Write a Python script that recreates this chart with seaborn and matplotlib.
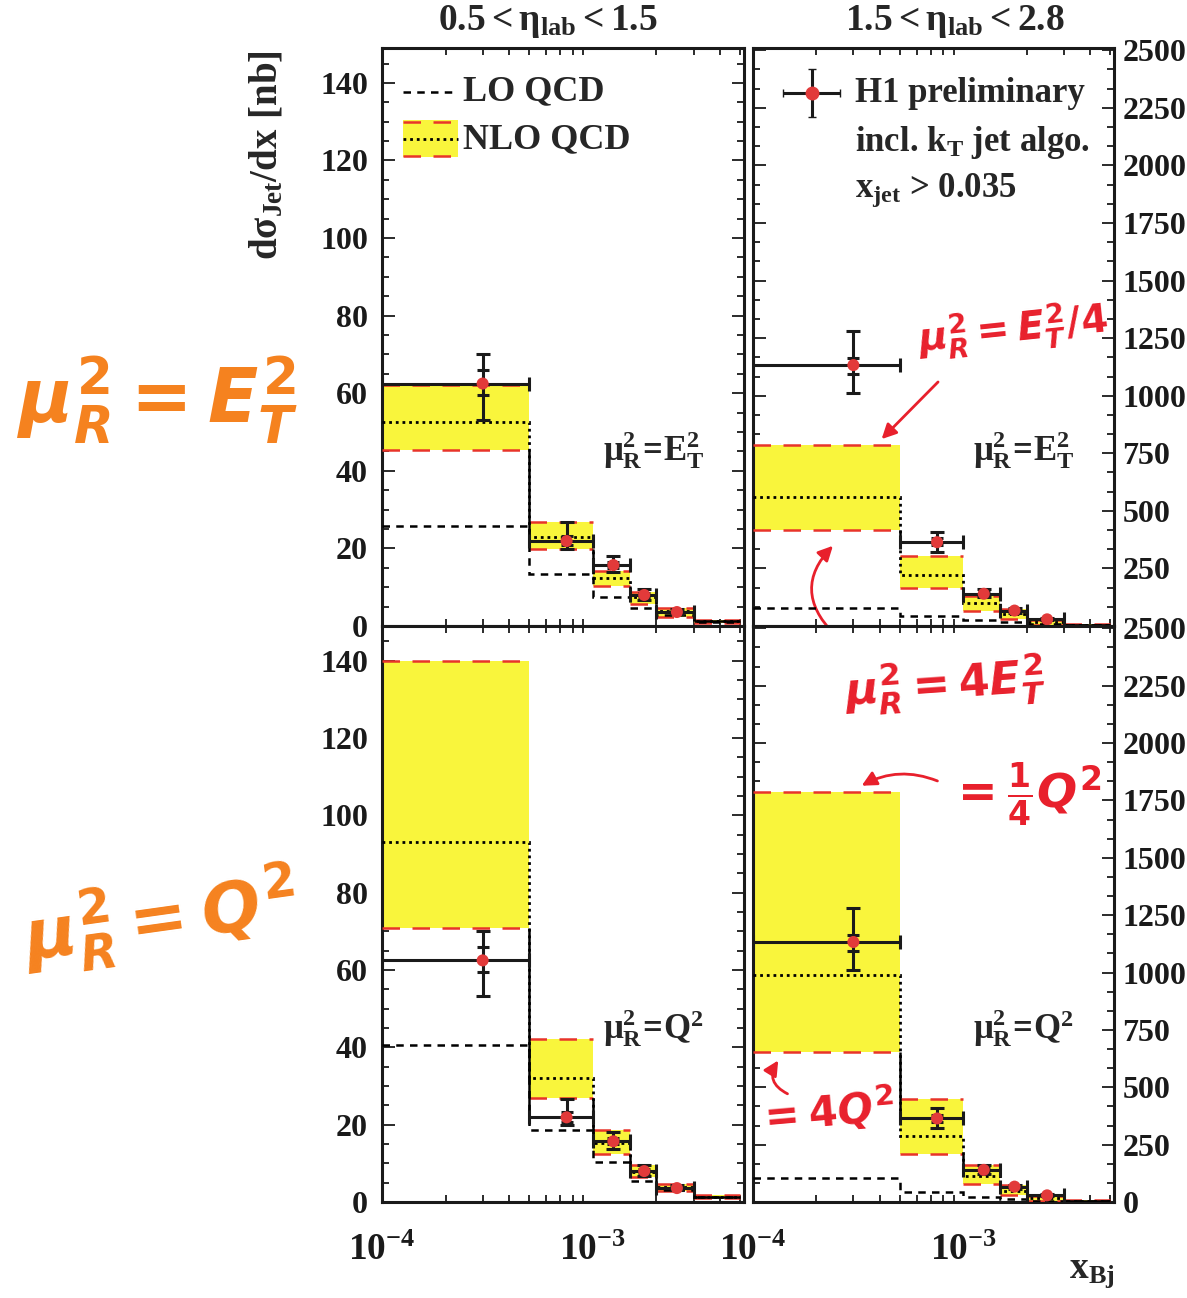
import numpy as np
import matplotlib
matplotlib.use("Agg")
import matplotlib.pyplot as plt
import seaborn as sns
from matplotlib.ticker import MultipleLocator, FixedLocator, FixedFormatter, LogLocator, NullFormatter

# bins in x_Bj
edges = [1e-4, 5e-4, 1e-3, 1.5e-3, 2e-3, 3e-3, 5e-3]

# H1 data (left: 0.5<eta<1.5 , right: 1.5<eta<2.8)
data_l = [62.5, 21.9, 15.7, 8.0, 3.6, 1.3]
tot_up_l = [70.0, 26.7, 18.0, 9.5, 4.3]
tot_dn_l = [53.2, 19.8, 13.8, 6.7, 3.0]
stat_up_l = [66.0, 23.2, 16.5, 8.6, 3.9]
stat_dn_l = [59.5, 20.8, 15.0, 7.4, 3.3]

data_r = [1133, 364, 140, 67, 29, 4]
tot_up_r = [1283, 410, 160, 76, 34]
tot_dn_r = [1010, 322, 124, 58, 24]
stat_up_r = [1165, 380, 146, 70, 31]
stat_dn_r = [1095, 350, 134, 63, 27]

# LO QCD
lo_tl = [25.9, 13.3, 7.6, 4.6, 2.8, 1.0]
lo_bl = [40.7, 18.7, 10.3, 5.5, 3.0, 1.2]
lo_tr = [79, 42, 26, 16, 8, 3]
lo_br = [103, 45, 23, 12, 6, 3]

# NLO QCD central / lower / upper (scale variation)
nlo_tl = [52.5, 23.0, 12.3, 7.4, 3.9, 1.3]
nlo_tl_lo = [45.4, 19.8, 10.3, 5.8, 2.4, 0.8]
nlo_tl_hi = [62.1, 26.7, 14.3, 8.8, 4.6, 1.6]

nlo_bl = [93.0, 32.0, 15.3, 7.7, 3.8, 1.4]
nlo_bl_lo = [70.8, 26.8, 12.4, 6.5, 2.9, 1.0]
nlo_bl_hi = [140.0, 42.1, 18.7, 9.6, 4.6, 1.8]

nlo_tr = [561, 220, 100, 52, 18, 4]
nlo_tr_lo = [417, 165, 67, 30, 6, 2]
nlo_tr_hi = [788, 304, 130, 72, 28, 7]

nlo_br = [988, 288, 113, 50, 18, 4]
nlo_br_lo = [652, 207, 78, 30, 5, 2]
nlo_br_hi = [1788, 450, 161, 74, 28, 8]

YELLOW = "#f9f53c"
RED = "#e8342a"
PT_RED = "#e23a3a"
ORANGE = "#f5821f"
HAND_RED = "#e8202c"

sns.set_style("ticks")
plt.rcParams["font.family"] = ["Liberation Serif", "DejaVu Serif"]
plt.rcParams["font.weight"] = "bold"
plt.rcParams["mathtext.fontset"] = "custom"
plt.rcParams["mathtext.rm"] = "Liberation Serif:bold"
plt.rcParams["mathtext.bf"] = "Liberation Serif:bold"
plt.rcParams["mathtext.it"] = "Liberation Serif:bold"

W, H = 1187, 1298
fig = plt.figure(figsize=(W / 100, H / 100), dpi=100)


def px(x0, y0, x1, y1):
    return [x0 / W, 1 - y1 / H, (x1 - x0) / W, (y1 - y0) / H]


ax_tl = fig.add_axes(px(382, 48, 744, 626))
ax_tr = fig.add_axes(px(753, 48, 1114, 626))
ax_bl = fig.add_axes(px(382, 626, 744, 1202))
ax_br = fig.add_axes(px(753, 626, 1114, 1202))

e = np.array(edges)
centers = (e[:-1] + e[1:]) / 2
halfw = (e[1:] - e[:-1]) / 2


def draw_panel(ax, data, t_up, t_dn, s_up, s_dn, lo, nlo, nlo_lo, nlo_hi):
    # NLO band
    ax.stairs(nlo_hi, edges, baseline=nlo_lo, fill=True, color=YELLOW, lw=0, zorder=2)
    ax.hlines(nlo_hi, e[:-1], e[1:], colors=RED, linestyles=(0, (7, 5)), lw=1.8, zorder=3)
    ax.hlines(nlo_lo, e[:-1], e[1:], colors=RED, linestyles=(0, (7, 5)), lw=1.8, zorder=3)
    ax.stairs(nlo, edges, baseline=None, color="black", lw=2.0, ls=(0, (1, 1.4)), zorder=4)
    # LO
    ax.stairs(lo, edges, baseline=None, color="black", lw=1.8, ls=(0, (3, 2.5)), zorder=4)
    # data
    n = len(t_up)
    d = np.array(data[:n])
    ax.vlines(e[1:-1], nlo_lo[:-1], data[1:], colors="black", lw=1.8, zorder=5)
    ax.hlines(data[n], e[n], e[n + 1], colors="black", lw=1.8, zorder=5)
    ax.errorbar(centers[:n], d, xerr=halfw[:n],
                yerr=[d - np.array(t_dn), np.array(t_up) - d],
                fmt="none", ecolor="#1a1a1a", elinewidth=2.2, capsize=5, capthick=2.2, zorder=6)
    ax.errorbar(centers[:n], d, yerr=[d - np.array(s_dn), np.array(s_up) - d],
                fmt="none", ecolor="#1a1a1a", elinewidth=0, capsize=4, capthick=2.2, zorder=6)
    sns.scatterplot(x=centers[:n], y=d, ax=ax, color=PT_RED, s=75, edgecolor="none", zorder=7)

    ax.set_xscale("log")
    ax.set_xlim(1e-4, 5.2e-3)
    ax.xaxis.set_major_locator(FixedLocator([1e-4, 1e-3]))
    ax.xaxis.set_minor_locator(LogLocator(base=10, subs=np.arange(2, 10)))
    ax.xaxis.set_minor_formatter(NullFormatter())
    ax.tick_params(which="both", direction="in", top=True, right=True, left=True, bottom=True,
                   width=1.3, labelsize=23, colors="#1a1a1a")
    ax.tick_params(which="major", length=9)
    ax.tick_params(which="minor", length=5)
    ax.tick_params(axis="x", which="major", length=0)
    for s in ax.spines.values():
        s.set_linewidth(2.2)
        s.set_color("#1a1a1a")


draw_panel(ax_tl, data_l, tot_up_l, tot_dn_l, stat_up_l, stat_dn_l, lo_tl, nlo_tl, nlo_tl_lo, nlo_tl_hi)
draw_panel(ax_bl, data_l, tot_up_l, tot_dn_l, stat_up_l, stat_dn_l, lo_bl, nlo_bl, nlo_bl_lo, nlo_bl_hi)
draw_panel(ax_tr, data_r, tot_up_r, tot_dn_r, stat_up_r, stat_dn_r, lo_tr, nlo_tr, nlo_tr_lo, nlo_tr_hi)
draw_panel(ax_br, data_r, tot_up_r, tot_dn_r, stat_up_r, stat_dn_r, lo_br, nlo_br, nlo_br_lo, nlo_br_hi)

for ax in (ax_tl, ax_bl):
    ax.set_ylim(0, 149)
    ax.yaxis.set_minor_locator(MultipleLocator(5))
    ax.set_yticks([0, 20, 40, 60, 80, 100, 120, 140])
    ax.tick_params(axis="y", labelleft=True, labelright=False, pad=10)

for ax in (ax_tr, ax_br):
    ax.set_ylim(0, 2510)
    ax.yaxis.set_minor_locator(MultipleLocator(250 / 3))
    ax.tick_params(axis="y", labelleft=False, labelright=True, pad=6)
ax_tr.set_yticks(np.arange(250, 2501, 250))
ax_br.set_yticks(np.arange(0, 2501, 250))

for ax in (ax_tl, ax_tr):
    ax.tick_params(axis="x", labelbottom=False)
for ax in (ax_bl, ax_br):
    ax.xaxis.set_major_formatter(FixedFormatter([r"$\mathbf{10^{-4}}$", r"$\mathbf{10^{-3}}$"]))
    ax.tick_params(axis="x", labelsize=27, pad=22)

# legends
ax_tl.plot([0.058, 0.21], [0.924, 0.924], transform=ax_tl.transAxes, color="black", lw=1.8, ls=(0, (3, 2.5)))
ax_tl.text(0.225, 0.924, "LO QCD", transform=ax_tl.transAxes, fontsize=26, va="center", ha="left")
ax_tl.fill_between([0.058, 0.21], 0.811, 0.875, transform=ax_tl.transAxes, color=YELLOW, lw=0)
ax_tl.plot([0.058, 0.21], [0.872, 0.872], transform=ax_tl.transAxes, color=RED, lw=1.8, ls=(0, (7, 5)))
ax_tl.plot([0.058, 0.21], [0.814, 0.814], transform=ax_tl.transAxes, color=RED, lw=1.8, ls=(0, (7, 5)))
ax_tl.plot([0.058, 0.21], [0.843, 0.843], transform=ax_tl.transAxes, color="black", lw=2.0, ls=(0, (1, 1.4)))
ax_tl.text(0.225, 0.841, "NLO QCD", transform=ax_tl.transAxes, fontsize=26, va="center", ha="left")

ax_tr.errorbar([0.163], [0.922], xerr=[0.079], yerr=[0.042], transform=ax_tr.transAxes,
               fmt="o", color="#1a1a1a", mfc=PT_RED, mec=PT_RED, ms=9, elinewidth=2.2, capsize=3)
ax_tr.text(0.283, 0.922, "H1 preliminary", transform=ax_tr.transAxes, fontsize=25, va="center")
ax_tr.text(0.283, 0.837, r"incl. k$_\mathbf{T}$ jet algo.", transform=ax_tr.transAxes, fontsize=25, va="center")
ax_tr.text(0.283, 0.754, r"x$_\mathbf{jet}$ > 0.035", transform=ax_tr.transAxes, fontsize=25, va="center")

for ax in (ax_tl, ax_tr):
    ax.text(0.75, 0.305, r"$\mathbf{\mu_R^2\!=\!E_T^2}$", transform=ax.transAxes, fontsize=25, ha="center", va="center")
for ax in (ax_bl, ax_br):
    ax.text(0.75, 0.302, r"$\mathbf{\mu_R^2\!=\!Q^2}$", transform=ax.transAxes, fontsize=25, ha="center", va="center")

# titles and axis labels
fig.text(548 / W, 1 - 22 / H, r"$\mathbf{0.5 < \eta_{lab} < 1.5}$", fontsize=27, ha="center", va="center")
fig.text(955 / W, 1 - 22 / H, r"$\mathbf{1.5 < \eta_{lab} < 2.8}$", fontsize=27, ha="center", va="center")
fig.text(268 / W, 1 - 155 / H, r"$\mathbf{d\sigma_{Jet}/dx\ [nb]}$", fontsize=28, rotation=90, ha="center", va="center")
fig.text(1092 / W, 1 - 1272 / H, r"$\mathbf{x_{Bj}}$", fontsize=27, ha="center", va="center")

# handwritten annotations
hand = dict(ha="center", va="center", math_fontfamily="dejavusans", fontweight="normal")
fig.text(158 / W, 1 - 400 / H, r"$\mu_R^2 = E_T^2$", fontsize=53, color=ORANGE, **hand)
fig.text(160 / W, 1 - 920 / H, r"$\mu_R^2 = Q^2$", fontsize=50, color=ORANGE, rotation=8, **hand)

fig.text(1012 / W, 1 - 330 / H, r"$\mu_R^2 = E_T^2/4$", fontsize=28, color=HAND_RED, rotation=6, **hand)
fig.text(945 / W, 1 - 685 / H, r"$\mu_R^2 = 4E_T^2$", fontsize=32, color=HAND_RED, rotation=4, **hand)
fig.text(1025 / W, 1 - 795 / H, r"$= \frac{1}{4}Q^2$", fontsize=34, color=HAND_RED, **hand)
fig.text(825 / W, 1 - 1112 / H, r"$= 4Q^2$", fontsize=30, color=HAND_RED, rotation=5, **hand)

arrow = dict(arrowstyle="-|>", color=HAND_RED, lw=2.0, mutation_scale=22)
ax_tr.annotate("", xy=(4.0e-4, nlo_tr_hi[0] + 15), xycoords="data",
               xytext=(940, H - 380), textcoords="figure pixels", arrowprops=arrow)
ax_tr.annotate("", xy=(2.45e-4, nlo_tr_lo[0] - 60), xycoords="data",
               xytext=(835, H - 635), textcoords="figure pixels",
               arrowprops=dict(arrow, connectionstyle="arc3,rad=-0.5"))
ax_br.annotate("", xy=(3.2e-4, nlo_br_hi[0] + 20), xycoords="data",
               xytext=(940, H - 782), textcoords="figure pixels",
               arrowprops=dict(arrow, connectionstyle="arc3,rad=0.25"))
ax_br.annotate("", xy=(1.34e-4, nlo_br_lo[0] - 25), xycoords="data",
               xytext=(790, H - 1095), textcoords="figure pixels",
               arrowprops=dict(arrow, connectionstyle="arc3,rad=-0.6"))

fig.savefig("out.png", dpi=100, facecolor="white")
